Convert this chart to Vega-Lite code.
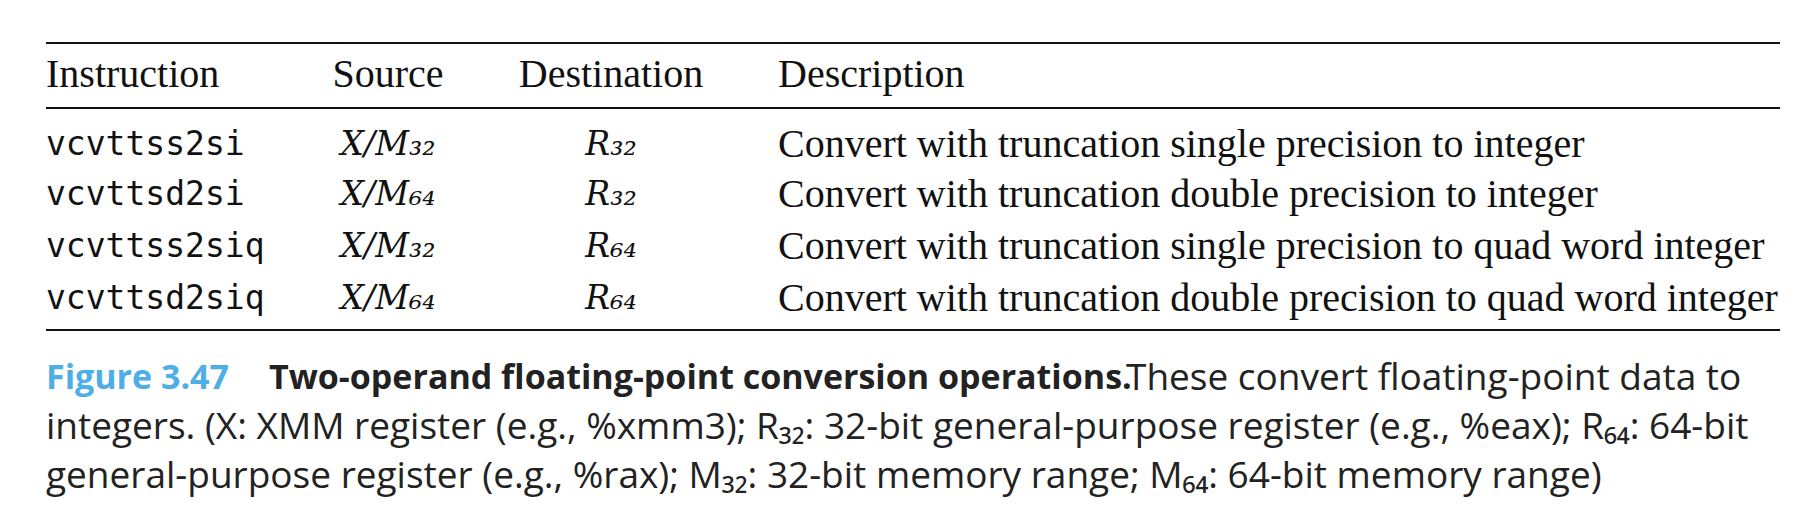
{
"$schema":"https://vega.github.io/schema/vega-lite/v6.json",
"width":1816,"height":530,"autosize":"none","padding":0,
"background":"white","config":{"view":{"stroke":null}},
"data":{"values":[
{"f":"rule","col":0,"row":0},{"f":"rule","col":0,"row":2},{"f":"rule","col":0,"row":7},
{"f":"serif","col":0,"row":1,"t":"Instruction"},
{"f":"serifc","col":2,"row":1,"t":"Source"},
{"f":"serifc","col":3,"row":1,"t":"Destination"},
{"f":"serif","col":4,"row":1,"t":"Description"},
{"f":"mono","col":0,"row":3,"t":"vcvttss2si"},
{"f":"mono","col":0,"row":4,"t":"vcvttsd2si"},
{"f":"mono","col":0,"row":5,"t":"vcvttss2siq"},
{"f":"mono","col":0,"row":6,"t":"vcvttsd2siq"},
{"f":"ital","col":2,"row":3,"t":"X/M₃₂"},
{"f":"ital","col":2,"row":4,"t":"X/M₆₄"},
{"f":"ital","col":2,"row":5,"t":"X/M₃₂"},
{"f":"ital","col":2,"row":6,"t":"X/M₆₄"},
{"f":"ital","col":3,"row":3,"t":"R₃₂"},
{"f":"ital","col":3,"row":4,"t":"R₃₂"},
{"f":"ital","col":3,"row":5,"t":"R₆₄"},
{"f":"ital","col":3,"row":6,"t":"R₆₄"},
{"f":"serif","col":4,"row":3,"t":"Convert with truncation single precision to integer"},
{"f":"serif","col":4,"row":4,"t":"Convert with truncation double precision to integer"},
{"f":"serif","col":4,"row":5,"t":"Convert with truncation single precision to quad word integer"},
{"f":"serif","col":4,"row":6,"t":"Convert with truncation double precision to quad word integer"},
{"f":"fig","col":0,"row":8,"t":"Figure 3.47"},
{"f":"bold","col":1,"row":8,"t":"Two-operand floating-point conversion operations."},
{"f":"sans","col":5,"row":8,"t":"These convert floating-point data to"},
{"f":"sans","col":0,"row":9,"t":"integers. (X: XMM register (e.g., %xmm3); R₃₂: 32-bit general-purpose register (e.g., %eax); R₆₄: 64-bit"},
{"f":"sans","col":0,"row":10,"t":"general-purpose register (e.g., %rax); M₃₂: 32-bit memory range; M₆₄: 64-bit memory range)"}
]},
"encoding":{
"x":{"field":"col","type":"quantitative","axis":null,"scale":{"domain":[0,1,2,3,4,5,6],"range":[46,269,388,611,778,1126,1780],"nice":false,"zero":false}},
"y":{"field":"row","type":"quantitative","axis":null,"scale":{"domain":[0,1,2,3,4,5,6,7,8,9,10],"range":[43,75,108,145,195,247,299,330,379,428,477],"nice":false,"zero":false}}
},
"layer":[
{"transform":[{"filter":"datum.f=='rule'"}],"mark":{"type":"rule","color":"#111","strokeWidth":2},"encoding":{"x2":{"datum":6}}},
{"transform":[{"filter":"datum.f=='serif'"}],"mark":{"type":"text","align":"left","baseline":"middle","font":"Liberation Serif","fontSize":40,"color":"#111"},"encoding":{"text":{"field":"t"}}},
{"transform":[{"filter":"datum.f=='serifc'"}],"mark":{"type":"text","align":"center","baseline":"middle","font":"Liberation Serif","fontSize":40,"color":"#111"},"encoding":{"text":{"field":"t"}}},
{"transform":[{"filter":"datum.f=='ital'"}],"mark":{"type":"text","align":"center","baseline":"middle","font":"DejaVu Serif","fontStyle":"italic","fontSize":33,"color":"#111"},"encoding":{"text":{"field":"t"}}},
{"transform":[{"filter":"datum.f=='mono'"}],"mark":{"type":"text","align":"left","baseline":"middle","font":"DejaVu Sans Mono","fontSize":33,"color":"#111"},"encoding":{"text":{"field":"t"}}},
{"transform":[{"filter":"datum.f=='fig'"}],"mark":{"type":"text","align":"left","baseline":"middle","font":"Open Sans","fontWeight":"bold","fontSize":34,"color":"#4daee8"},"encoding":{"text":{"field":"t"}}},
{"transform":[{"filter":"datum.f=='bold'"}],"mark":{"type":"text","align":"left","baseline":"middle","font":"Open Sans","fontWeight":"bold","fontSize":34,"color":"#222"},"encoding":{"text":{"field":"t"}}},
{"transform":[{"filter":"datum.f=='sans'"}],"mark":{"type":"text","align":"left","baseline":"middle","font":"Open Sans","fontSize":37,"color":"#222"},"encoding":{"text":{"field":"t"}}}
]
}
